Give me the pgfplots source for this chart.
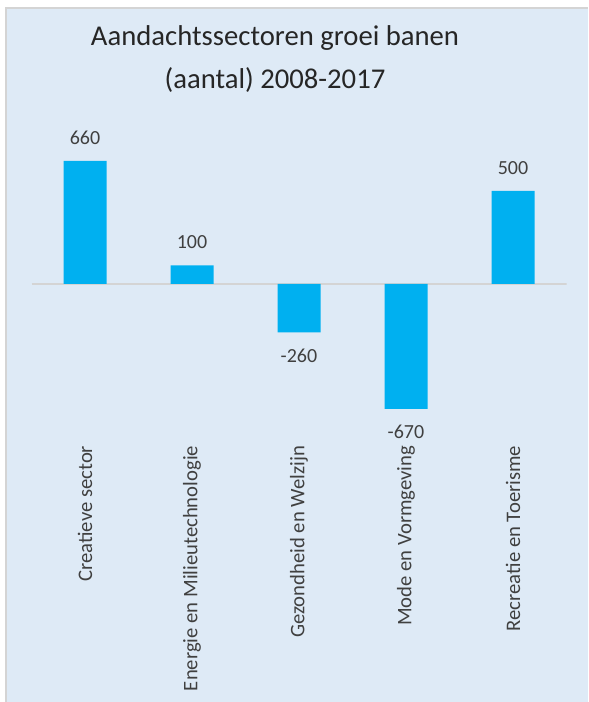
\documentclass[border=0pt]{standalone}
\usepackage{pgfplots}
\pgfplotsset{compat=1.18}
\usepackage{fontspec}
\setmainfont{Carlito}
\definecolor{bg}{HTML}{DEEAF6}
\definecolor{barc}{HTML}{00B0F0}
\definecolor{txt}{HTML}{404040}
\definecolor{brd}{HTML}{D4D4D4}
\begin{document}
\begin{tikzpicture}
\fill[bg] (4.5pt,0) rectangle (441pt,520.5pt);
\draw[brd, line width=1pt] (4.5pt,0) -- (4.5pt,520.5pt) -- (441pt,520.5pt);
\node[font=\fontsize{21.5}{32}\selectfont, align=center, text=black!85] at (206.25pt,482pt)
  {Aandachtssectoren groei banen\\(aantal) 2008-2017};
\begin{axis}[
  at={(23.625pt,215.625pt)}, anchor=south west,
  scale only axis, width=401.25pt, height=195.75pt,
  xmin=-0.5, xmax=4.5, ymin=-700, ymax=700,
  axis line style={draw=none}, tick style={draw=none},
  ytick=\empty, xtick=data,
  xticklabels={Creatieve sector, Energie en Milieutechnologie, Gezondheid en Welzijn, Mode en Vormgeving, Recreatie en Toerisme},
  xticklabel style={rotate=90, anchor=east, font=\fontsize{15.5}{17}\selectfont, text=txt},
  xticklabel shift=20pt,
  /pgf/number format/assume math mode=true,
  nodes near coords,
  every node near coord/.append style={font=\fontsize{15}{17}\selectfont, text=txt, inner ysep=12pt},
]
\draw[brd, line width=0.8pt] (axis cs:-0.5,0) -- (axis cs:4.5,0);
\addplot[ybar, fill=barc, draw=none, bar width=32.25pt]
  coordinates {(0,660) (1,100) (2,-260) (3,-670) (4,500)};
\end{axis}
\pgfresetboundingbox
\path (0,0) rectangle (441pt,526.5pt);
\end{tikzpicture}
\end{document}
